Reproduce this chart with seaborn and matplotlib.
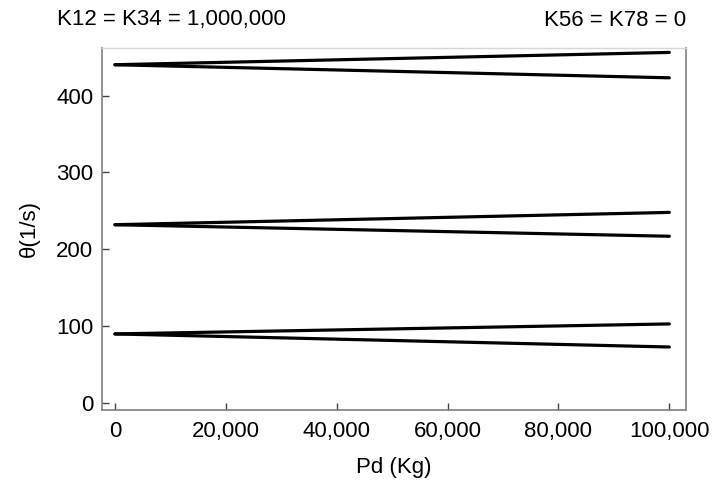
import pandas as pd
import matplotlib
matplotlib.use('Agg')
import matplotlib.pyplot as plt
import seaborn as sns
from matplotlib.ticker import FuncFormatter

# Values (line ends at Pd = 0 and Pd = 100,000)
pd_kg = [0, 100000]
theta_lines = {
    'mode3_up': [440, 456],
    'mode3_down': [440, 423],
    'mode2_up': [232, 248],
    'mode2_down': [232, 217],
    'mode1_up': [90, 103],
    'mode1_down': [90, 73],
}
x_ticks = [0, 20000, 40000, 60000, 80000, 100000]
y_ticks = [0, 100, 200, 300, 400]

rows = []
for name, vals in theta_lines.items():
    for x, y in zip(pd_kg, vals):
        rows.append({'line': name, 'Pd': x, 'theta': y})
df = pd.DataFrame(rows)

sns.set_style('white')
plt.rcParams['font.family'] = ['Liberation Sans', 'DejaVu Sans']
plt.rcParams['text.color'] = 'black'
plt.rcParams['axes.labelcolor'] = 'black'

fig = plt.figure(figsize=(7.16, 4.83), dpi=100)
ax = fig.add_axes([0.142, 0.151, 0.816, 0.750])

sns.lineplot(data=df, x='Pd', y='theta', units='line', estimator=None,
             color='black', linewidth=2.3, ax=ax, legend=False)

ax.set_xlim(-2400, 103000)
ax.set_ylim(-9, 462)
ax.set_xticks(x_ticks)
ax.set_yticks(y_ticks)
ax.xaxis.set_major_formatter(FuncFormatter(lambda v, p: f'{int(v):,}'))
ax.tick_params(bottom=True, left=True, top=False, right=False,
               direction='in', length=5, width=1, color='#444444',
               labelcolor='black', labelsize=16, pad=6)
ax.tick_params(axis='x', pad=8)

for side in ['left', 'bottom', 'right']:
    ax.spines[side].set_color('#808080')
    ax.spines[side].set_linewidth(1.2)
ax.spines['top'].set_color('#d6d6d6')
ax.spines['top'].set_linewidth(1.0)

ax.set_xlabel('Pd (Kg)', fontsize=16, labelpad=11)
ax.set_ylabel('θ(1/s)', fontsize=16, labelpad=12)

fig.text(57 / 716, 1 - 20 / 483, 'K12 = K34 = 1,000,000', fontsize=16,
         ha='left', va='center')
fig.text(686 / 716, 1 - 20 / 483, 'K56 = K78 = 0', fontsize=16,
         ha='right', va='center')

fig.savefig('out.png', dpi=100)
